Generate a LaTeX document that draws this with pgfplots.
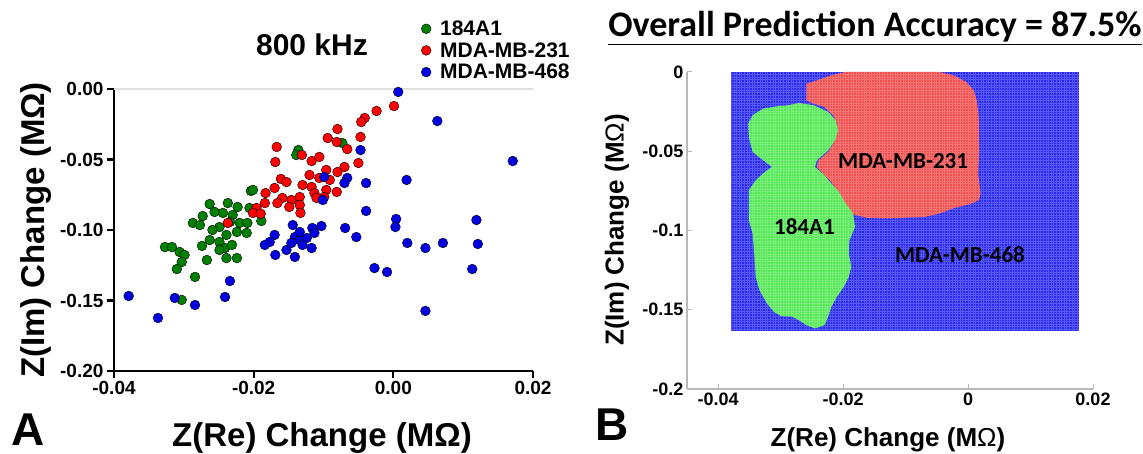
\documentclass[border=0pt]{standalone}
\usepackage{pgfplots}
\pgfplotsset{compat=1.18}
\usepackage{fontspec}
\setmainfont{Liberation Sans}
\newfontfamily\calibri{Carlito}
\newcommand{\fs}[1]{\fontsize{#1}{#1}\selectfont}

\definecolor{cgreen}{RGB}{0,128,0}
\definecolor{cred}{RGB}{255,0,0}
\definecolor{cblue}{RGB}{0,0,225}
\definecolor{rblue}{RGB}{40,40,240}
\definecolor{rred}{RGB}{242,78,78}
\definecolor{rgreen}{RGB}{84,232,84}

\begin{document}
\begin{tikzpicture}[x=1pt,y=1pt]
\path[use as bounding box] (0,0) rectangle (1143,454);

% ---------------- Panel A: scatter at 800 kHz ----------------
\begin{axis}[
  at={(114pt,83pt)}, anchor=south west,
  scale only axis, width=419pt, height=282pt,
  xmin=-0.04, xmax=0.02, ymin=-0.2, ymax=0,
  axis x line*=bottom, axis y line*=left,
  axis line style={line width=2.6pt, black},
  tick style={line width=2.2pt, black},
  tick align=outside, major tick length=7pt,
  xtick={-0.04,-0.02,0,0.02}, ytick={-0.2,-0.15,-0.1,-0.05,0},
  scaled ticks=false,
  /pgf/number format/.cd, fixed, fixed zerofill, precision=2, assume math mode=true,
  /pgfplots/.cd,
  ticklabel style={font=\fs{19}\bfseries},
  clip=false,
  legend style={at={(0.733,1.250)}, anchor=north west, draw=none, fill=none,
    font=\fs{21}\bfseries, row sep=1.5pt, inner sep=0pt,
    /tikz/every odd column/.append style={column sep=7pt}},
  legend cell align=left,
]
\addplot[gray!25, line width=1.5pt, forget plot] coordinates {(-0.04,0) (0.02,0)};

\addplot[only marks, mark=*, mark size=4.9pt, mark options={draw=none, fill=cgreen}] coordinates {
(-0.0204,-0.0723) (-0.0263,-0.0816) (-0.0237,-0.0809) (-0.0223,-0.0837) (-0.0273,-0.0901)
(-0.0244,-0.0879) (-0.0230,-0.0894) (-0.0287,-0.0950) (-0.0277,-0.0965) (-0.0249,-0.0979)
(-0.0220,-0.0950) (-0.0209,-0.0950) (-0.0224,-0.1014) (-0.0210,-0.1021) (-0.0239,-0.1035)
(-0.0263,-0.1071) (-0.0249,-0.1085) (-0.0274,-0.1113) (-0.0327,-0.1121) (-0.0317,-0.1121)
(-0.0306,-0.1156) (-0.0299,-0.1177) (-0.0241,-0.1128) (-0.0249,-0.1142) (-0.0239,-0.1199)
(-0.0224,-0.1199) (-0.0267,-0.1213) (-0.0303,-0.1227) (-0.0310,-0.1277) (-0.0284,-0.1333)
(-0.0303,-0.1496) (-0.0189,-0.0936) (-0.0206,-0.0844) (-0.0136,-0.0433) (-0.0139,-0.0468)
(-0.0073,-0.0383) (-0.0201,-0.0716) (-0.0256,-0.0872) (-0.0234,-0.0943) (-0.0259,-0.1000)
(-0.0231,-0.1106)
};
\addlegendentry{184A1}

\addplot[only marks, mark=*, mark size=4.9pt, mark options={draw=none, fill=cred}] coordinates {
(0.0001,-0.0121) (-0.0024,-0.0156) (-0.0041,-0.0206) (-0.0046,-0.0234) (-0.0080,-0.0284)
(-0.0094,-0.0348) (-0.0081,-0.0376) (-0.0066,-0.0426) (-0.0047,-0.0340) (-0.0167,-0.0411)
(-0.0169,-0.0518) (-0.0131,-0.0468) (-0.0117,-0.0511) (-0.0106,-0.0482) (-0.0050,-0.0525)
(-0.0070,-0.0553) (-0.0080,-0.0589) (-0.0096,-0.0574) (-0.0120,-0.0610) (-0.0106,-0.0631)
(-0.0091,-0.0645) (-0.0161,-0.0638) (-0.0153,-0.0660) (-0.0170,-0.0702) (-0.0130,-0.0681)
(-0.0117,-0.0695) (-0.0113,-0.0738) (-0.0081,-0.0730) (-0.0096,-0.0716) (-0.0183,-0.0738)
(-0.0184,-0.0809) (-0.0159,-0.0773) (-0.0146,-0.0787) (-0.0134,-0.0766) (-0.0134,-0.0823)
(-0.0149,-0.0837) (-0.0166,-0.0809) (-0.0133,-0.0879) (-0.0196,-0.0844) (-0.0201,-0.0879)
(-0.0099,-0.0766) (-0.0110,-0.0773) (-0.0237,-0.0950) (-0.0190,-0.0885)
};
\addlegendentry{MDA-MB-231}

\addplot[only marks, mark=*, mark size=4.9pt, mark options={draw=none, fill=cblue}] coordinates {
(0.0007,-0.0021) (0.0063,-0.0227) (0.0171,-0.0511) (-0.0047,-0.0433) (0.0019,-0.0645)
(-0.0039,-0.0667) (-0.0066,-0.0631) (-0.0070,-0.0667) (-0.0099,-0.0624) (-0.0101,-0.0787)
(-0.0039,-0.0865) (0.0004,-0.0922) (0.0003,-0.0979) (0.0119,-0.0929) (0.0121,-0.1099)
(0.0071,-0.1092) (0.0046,-0.1128) (0.0020,-0.1092) (-0.0069,-0.0986) (-0.0053,-0.1050)
(-0.0027,-0.1270) (-0.0009,-0.1298) (0.0113,-0.1277) (0.0046,-0.1574) (-0.0103,-0.0972)
(-0.0116,-0.0986) (-0.0144,-0.0965) (-0.0113,-0.1021) (-0.0141,-0.1050) (-0.0134,-0.1071)
(-0.0124,-0.1057) (-0.0146,-0.1092) (-0.0130,-0.1106) (-0.0117,-0.1128) (-0.0153,-0.1142)
(-0.0141,-0.1191) (-0.0170,-0.1035) (-0.0177,-0.1085) (-0.0184,-0.1106) (-0.0169,-0.1177)
(-0.0379,-0.1468) (-0.0337,-0.1624) (-0.0313,-0.1482) (-0.0284,-0.1532) (-0.0241,-0.1475)
(-0.0234,-0.1362) (-0.0134,-0.1014)
};
\addlegendentry{MDA-MB-468}
\end{axis}

\node[font=\fs{30}\bfseries] at (312,409) {800 kHz};
\node[font=\fs{33}\bfseries, rotate=90] at (36,224) {Z(Im) Change (MΩ)};
\node[font=\fs{33}\bfseries] at (322,16) {Z(Re) Change (MΩ)};
\node[font=\fs{46}\bfseries] at (28,24) {A};

% ---------------- Panel B: classification regions ----------------
\begin{axis}[
  at={(687pt,65pt)}, anchor=south west,
  scale only axis, width=406pt, height=317pt,
  xmin=-0.045, xmax=0.02, ymin=-0.2, ymax=0,
  axis x line*=bottom, axis y line*=left,
  axis line style={line width=1.2pt, gray!55},
  tick style={line width=1pt, gray!55},
  tick align=inside, major tick length=5pt,
  scaled ticks=false,
  xtick={-0.04,-0.02,0,0.02}, xticklabels={-0.04,-0.02,0,0.02},
  ytick={-0.2,-0.15,-0.1,-0.05,0}, yticklabels={-0.2,-0.15,-0.1,-0.05,0},
  ticklabel style={font=\fs{18}\bfseries},
  clip=false,
]
% predicted class regions
\addplot[fill=rblue, draw=none] coordinates {
(-0.0380,-0.1637) (0.0177,-0.1637) (0.0177,0) (-0.0380,0)} -- cycle;

\addplot[fill=rred, draw=none] coordinates {
(-0.0259,-0.0074) (-0.0242,-0.0053) (-0.0219,-0.0021) (-0.0196,0) (-0.0046,0)
(-0.0023,-0.0021) (-0.0003,-0.0063) (0.0009,-0.0116) (0.0014,-0.0179) (0.0017,-0.0284)
(0.0018,-0.0494) (0.0016,-0.0641) (0.0020,-0.0767) (0.0017,-0.0809) (0.0003,-0.0834)
(-0.0020,-0.0855) (-0.0046,-0.0893) (-0.0069,-0.0914) (-0.0132,-0.0924) (-0.0161,-0.0920)
(-0.0181,-0.0903) (-0.0193,-0.0861) (-0.0201,-0.0819) (-0.0210,-0.0756) (-0.0219,-0.0693)
(-0.0230,-0.0651) (-0.0242,-0.0599) (-0.0239,-0.0557) (-0.0224,-0.0504) (-0.0216,-0.0452)
(-0.0212,-0.0389) (-0.0210,-0.0326) (-0.0216,-0.0273) (-0.0230,-0.0221) (-0.0247,-0.0200)
(-0.0259,-0.0179)} -- cycle;

\addplot[fill=rgreen, draw=none] coordinates {
(-0.0271,-0.0195) (-0.0247,-0.0210) (-0.0224,-0.0252) (-0.0212,-0.0305) (-0.0208,-0.0368)
(-0.0213,-0.0431) (-0.0224,-0.0494) (-0.0242,-0.0557) (-0.0245,-0.0599) (-0.0230,-0.0651)
(-0.0219,-0.0704) (-0.0207,-0.0756) (-0.0196,-0.0830) (-0.0184,-0.0893) (-0.0181,-0.0977)
(-0.0190,-0.1061) (-0.0191,-0.1145) (-0.0187,-0.1229) (-0.0191,-0.1292) (-0.0199,-0.1355)
(-0.0210,-0.1418) (-0.0219,-0.1481) (-0.0224,-0.1544) (-0.0230,-0.1597) (-0.0245,-0.1618)
(-0.0259,-0.1597) (-0.0271,-0.1565) (-0.0282,-0.1544) (-0.0299,-0.1540) (-0.0311,-0.1513)
(-0.0322,-0.1460) (-0.0334,-0.1376) (-0.0340,-0.1292) (-0.0342,-0.1166) (-0.0345,-0.1019)
(-0.0351,-0.0935) (-0.0351,-0.0746) (-0.0340,-0.0683) (-0.0325,-0.0630) (-0.0314,-0.0599)
(-0.0328,-0.0557) (-0.0345,-0.0504) (-0.0351,-0.0410) (-0.0352,-0.0326) (-0.0345,-0.0273)
(-0.0328,-0.0231) (-0.0305,-0.0216) (-0.0288,-0.0210)} -- cycle;

% fine mesh of the evaluation grid
\draw[white, opacity=0.22, line width=0.5pt, step=2.6pt]
  (axis cs:-0.0380,-0.1637) grid (axis cs:0.0177,0);

\node[font=\calibri\bfseries\fs{23}] at (axis cs:-0.0104,-0.0560) {MDA-MB-231};
\node[font=\calibri\bfseries\fs{23}] at (axis cs:-0.0262,-0.0977) {184A1};
\node[font=\calibri\bfseries\fs{23}] at (axis cs:-0.0013,-0.1155) {MDA-MB-468};
\end{axis}

\node[font=\calibri\bfseries\fs{36}] at (875,426) {\underline{Overall Prediction Accuracy = 87.5\%}};
\node[font=\fs{26}\bfseries, rotate=90] at (617,224) {Z(Im) Change (M{\mdseries Ω})};
\node[font=\fs{26}\bfseries] at (888,14) {Z(Re) Change (M{\mdseries Ω})};
\node[font=\fs{46}\bfseries] at (612,29) {B};
\end{tikzpicture}
\end{document}
